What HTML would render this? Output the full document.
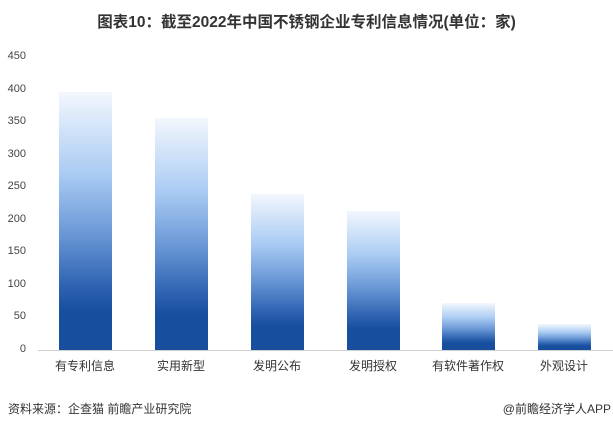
<!DOCTYPE html>
<html><head><meta charset="utf-8"><style>
body{margin:0;width:613px;height:425px;background:#fff;position:relative;overflow:hidden;font-family:"Liberation Sans","Noto Sans CJK SC",sans-serif;color:#333}
.t{position:absolute;white-space:nowrap}
.bar{position:absolute;width:53px;background:linear-gradient(to bottom,#f3f7fd 0%,#a9cbf3 32%,#6a98d6 55%,#2f64b2 75%,#174e9e 85%,#174e9e 100%)}
.yl{position:absolute;left:0;width:26px;text-align:right;font-size:11px;color:#444}
.xl{position:absolute;width:96px;text-align:center;font-size:12px;top:357px;color:#333}
</style></head><body>
<div class="t" style="left:0;width:613px;text-align:center;top:10px;font-size:15.5px;font-weight:bold;color:#333">图表10：截至2022年中国不锈钢企业专利信息情况(单位：家)</div>
<div class="yl" style="top:50px">450</div>
<div class="yl" style="top:83px">400</div>
<div class="yl" style="top:115px">350</div>
<div class="yl" style="top:148px">300</div>
<div class="yl" style="top:180px">250</div>
<div class="yl" style="top:213px">200</div>
<div class="yl" style="top:245px">150</div>
<div class="yl" style="top:278px">100</div>
<div class="yl" style="top:310px">50</div>
<div class="yl" style="top:343px">0</div>
<div class="bar" style="left:59px;top:92px;height:258px"></div>
<div class="bar" style="left:155px;top:118px;height:232px"></div>
<div class="bar" style="left:251px;top:194px;height:156px"></div>
<div class="bar" style="left:347px;top:211px;height:139px"></div>
<div class="bar" style="left:442px;top:303px;height:47px"></div>
<div class="bar" style="left:538px;top:324px;height:26px"></div>
<div style="position:absolute;left:38px;top:350px;width:575px;height:1px;background:#d0d0d0"></div>
<div class="xl" style="left:37px">有专利信息</div>
<div class="xl" style="left:133px">实用新型</div>
<div class="xl" style="left:229px">发明公布</div>
<div class="xl" style="left:325px">发明授权</div>
<div class="xl" style="left:420px">有软件著作权</div>
<div class="xl" style="left:516px">外观设计</div>
<div class="t" style="left:8px;top:400px;font-size:12px">资料来源：企查猫 前瞻产业研究院</div>
<div class="t" style="right:2px;top:400px;font-size:12px">@前瞻经济学人APP</div>
</body></html>
